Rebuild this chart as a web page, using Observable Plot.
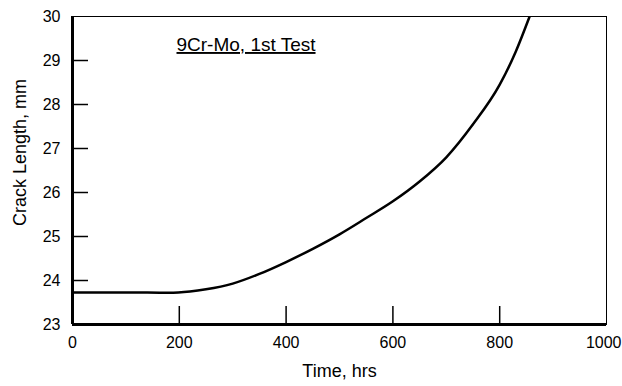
<!DOCTYPE html>
<html>
<head>
<meta charset="utf-8">
<script src="https://cdn.jsdelivr.net/npm/d3@7"></script>
<script src="https://cdn.jsdelivr.net/npm/@observablehq/plot@0.6"></script>
<style>
  html, body { margin: 0; padding: 0; background: #fff; }
  svg { font-family: "Liberation Sans", Arial, sans-serif; }
  g[aria-label="x-axis tick label"], g[aria-label="y-axis tick label"] { font-size: 16px; }
</style>
</head>
<body>
<div id="chart"></div>
<script>
const timeHrs = [0, 100, 180, 220, 250, 300, 350, 400, 450, 500, 550, 600, 650, 700, 750, 800, 830, 856];
const crackMm = [23.73, 23.73, 23.72, 23.75, 23.80, 23.93, 24.15, 24.42, 24.72, 25.05, 25.42, 25.80, 26.25, 26.80, 27.55, 28.45, 29.20, 30.0];
const xTicks = [0, 200, 400, 600, 800, 1000];
const yTicks = [23, 24, 25, 26, 27, 28, 29, 30];
const xInnerTicks = [200, 400, 600, 800];
const yInnerTicks = [24, 25, 26, 27, 28, 29];
const titleText = ["9Cr-Mo, 1st Test"];

const data = timeHrs.map((t, i) => ({t, c: crackMm[i]}));

const W = 622, H = 386;
const mL = 72, mR = 16, mT = 16, mB = 62;

const chart = Plot.plot({
  width: W,
  height: H,
  marginLeft: mL,
  marginRight: mR,
  marginTop: mT,
  marginBottom: mB,
  style: {fontFamily: '"Liberation Sans", Arial, sans-serif', background: "#fff", color: "#000"},
  x: {domain: [0, 1000]},
  y: {domain: [23, 30]},
  marks: [
    Plot.frame({stroke: "#000", strokeWidth: 1}),
    Plot.tickX(xInnerTicks, {x: d => d, stroke: "#000", strokeWidth: 1.5, insetTop: H - mT - mB - 18}),
    Plot.tickY(yInnerTicks, {y: d => d, stroke: "#000", strokeWidth: 1.5, insetRight: W - mL - mR - 16}),
    Plot.ruleX([0], {stroke: "#000", strokeWidth: 3}),
    Plot.ruleY([23], {stroke: "#000", strokeWidth: 3}),
    Plot.line(data, {x: "t", y: "c", curve: "monotone-x", stroke: "#000", strokeWidth: 2.5, clip: true}),
    Plot.axisX(xTicks, {tickSize: 0, tickPadding: 12, tickFormat: d => String(d), label: null}),
    Plot.axisY(yTicks, {tickSize: 0, tickPadding: 12, tickFormat: d => String(d), label: null}),
    Plot.text(["Time, hrs"], {frameAnchor: "bottom", dy: 52, fontSize: 18, fill: "#000"}),
    Plot.text(["Crack Length, mm"], {frameAnchor: "left", textAnchor: "middle", dx: -52, dy: -18, rotate: -90, fontSize: 18, fill: "#000"}),
    Plot.text(titleText, {frameAnchor: "top-left", dx: 104, dy: 21, textAnchor: "start", fontSize: 19, fill: "#000"})
  ]
});
d3.select(chart).selectAll("text")
  .filter(function() { return this.textContent === titleText[0]; })
  .style("text-decoration", "underline");
d3.select(chart).selectAll('g[aria-label="x-axis tick label"] text')
  .filter(function() { return this.textContent === String(xTicks[xTicks.length - 1]); })
  .attr("text-anchor", "end")
  .attr("dx", 15);
document.getElementById("chart").appendChild(chart);
</script>
</body>
</html>
